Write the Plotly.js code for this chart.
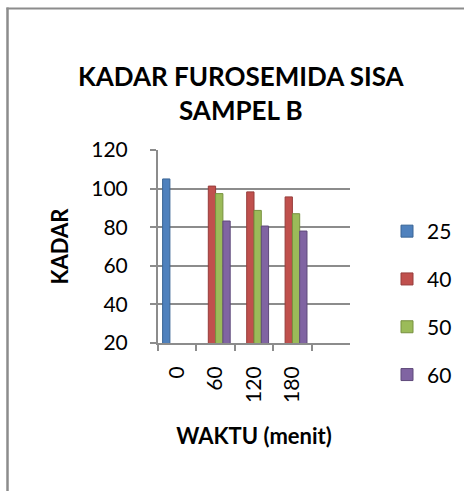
<!DOCTYPE html>
<html>
<head>
<meta charset="utf-8">
<script src="https://cdn.plot.ly/plotly-3.0.1.min.js"></script>
<style>
html,body{margin:0;padding:0;background:#fff;overflow:hidden;}
#chart{width:464px;height:491px;}
</style>
</head>
<body>
<div id="chart"></div>
<script>
var categories = ['0', '60', '120', '180'];
var seriesNames = ['25', '40', '50', '60'];
var s25 = [105, null, null, null];
var s40 = [null, 101.3, 98.3, 95.7];
var s50 = [null, 97.4, 88.7, 87];
var s60 = [null, 83.2, 80.6, 78];
var yTicks = [20, 40, 60, 80, 100, 120];

var colors = ['#4F81BD', '#C0504D', '#9BBB59', '#8064A2'];
var edges = ['#3A6595', '#963D3B', '#77913F', '#5F4A7A'];
var values = [s25, s40, s50, s60];

var font = 'Lato, "Open Sans", "Liberation Sans", sans-serif';

var traces = values.map(function (v, i) {
  return {
    type: 'bar',
    name: seriesNames[i],
    x: categories,
    y: v,
    legendgroup: 'g' + i,
    marker: { color: colors[i], line: { color: edges[i], width: 1 } },
    hoverinfo: 'x+y+name'
  };
});

var L = 158, R = 350, T = 150, B = 343;
function px(x) { return (x - L) / (R - L); }
function py(y) { return (B - y) / (B - T); }

var layout = {
  width: 464,
  height: 491,
  margin: { l: L, r: 464 - R, t: T, b: 491 - B, autoexpand: false },
  paper_bgcolor: '#ffffff',
  plot_bgcolor: '#ffffff',
  font: { family: font, size: 21, color: '#000' },
  showlegend: true,
  barmode: 'group',
  bargap: 0.24,
  bargroupgap: 0,
  title: {
    text: 'KADAR FUROSEMIDA SISA<br>SAMPEL B',
    font: { family: font, size: 26, color: '#000', weight: 'bold' },
    x: 0.519,
    xanchor: 'center',
    y: 0.825,
    yanchor: 'top'
  },
  xaxis: {
    type: 'category',
    range: [-0.5, 4.5],
    tickangle: -90,
    tickson: 'boundaries',
    ticks: 'outside',
    ticklen: 6,
    tickwidth: 2,
    tickcolor: '#8c8c8c',
    ticklabelstandoff: 13,
    showline: true,
    linecolor: '#8c8c8c',
    linewidth: 2,
    showgrid: false,
    zeroline: false,
    tickfont: { family: font, size: 21, color: '#000' },
    title: {
      text: 'WAKTU (menit)',
      font: { family: font, size: 22, color: '#000', weight: 'bold' },
      standoff: 27
    }
  },
  yaxis: {
    range: [20, 120],
    tickvals: yTicks,
    ticktext: yTicks.map(String),
    ticks: 'outside',
    ticklen: 6,
    tickwidth: 2,
    tickcolor: '#8c8c8c',
    ticklabelstandoff: 18,
    showline: true,
    linecolor: '#8c8c8c',
    linewidth: 2,
    showgrid: true,
    gridcolor: '#8c8c8c',
    gridwidth: 2,
    zeroline: false,
    tickfont: { family: font, size: 21, color: '#000' },
    title: {
      text: 'KADAR',
      font: { family: font, size: 22, color: '#000', weight: 'bold' },
      standoff: 17
    }
  },
  legend: {
    x: px(387),
    xanchor: 'left',
    y: py(211),
    yanchor: 'top',
    traceorder: 'grouped',
    tracegroupgap: 17.5,
    font: { family: font, size: 21, color: '#000' },
    bgcolor: 'rgba(0,0,0,0)',
    itemwidth: 30
  },
  shapes: [
    {
      type: 'line', xref: 'paper', yref: 'paper',
      x0: px(7.5), x1: px(7.5), y0: py(7.5), y1: py(500),
      line: { color: '#8c8c8c', width: 2.5 },
      layer: 'above'
    },
    {
      type: 'line', xref: 'paper', yref: 'paper',
      x0: px(6.5), x1: px(470), y0: py(8.5), y1: py(8.5),
      line: { color: '#8c8c8c', width: 2 },
      layer: 'above'
    }
  ]
};

Plotly.newPlot('chart', traces, layout, { displayModeBar: false, staticPlot: true });
</script>
</body>
</html>
